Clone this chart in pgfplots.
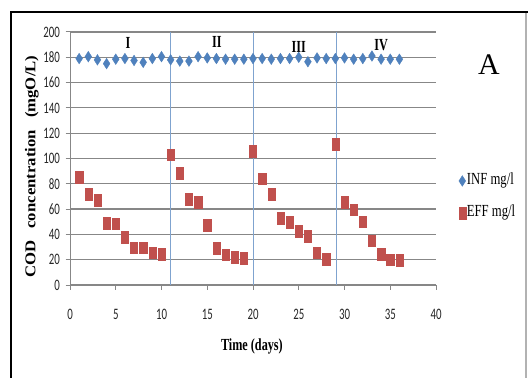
\documentclass[border=0pt]{standalone}
\usepackage{fontspec}
\setmainfont{Liberation Serif}
\newfontfamily\tickfont[FakeStretch=0.68]{Carlito}
\newfontfamily\condfont[FakeStretch=0.72]{Liberation Serif}
\newfontfamily\legfont[FakeStretch=0.75]{Liberation Serif}
\newfontfamily\ylfont[FakeStretch=1.12]{Liberation Serif}
\usepackage{pgfplots}
\pgfplotsset{compat=1.18}
\definecolor{infblue}{HTML}{4F81BD}
\definecolor{effred}{HTML}{C0504D}
\definecolor{sepblue}{HTML}{7FA3CF}
\definecolor{gridgray}{HTML}{878787}
\begin{document}
\begin{tikzpicture}
\useasboundingbox (0,0) rectangle (528bp,378bp);
\fill[white] (0,0) rectangle (528bp,378bp);
\draw[line width=2.5bp] (10.8bp,0) -- (10.8bp,365.8bp) -- (528bp,365.8bp);
\draw[black!30, line width=1.2bp] (526bp,365bp) -- (526bp,0);
\begin{axis}[
  at={(70bp,93bp)}, anchor=south west,
  scale only axis, width=366bp, height=253bp,
  xmin=0, xmax=40, ymin=0, ymax=200,
  xtick={0,5,...,40}, ytick={0,20,...,200},
  axis x line*=bottom, axis y line*=left,
  axis line style={gridgray, line width=1bp},
  ymajorgrids, grid style={gridgray, line width=1.2bp},
  tick align=outside, major tick length=4.5bp,
  tick style={gridgray, line width=1bp},
  /pgf/number format/assume math mode=true,
  ticklabel style={font=\tickfont\fontsize{16}{16}\selectfont, text=black!85},
  xticklabel style={yshift=-16bp},
  yticklabel style={xshift=-2bp},
  clip=false,
  xlabel={\bfseries Time (days)},
  xlabel style={font=\condfont\fontsize{17}{17}\selectfont, at={(axis description cs:0.497,-0.241)}, anchor=center},
  ylabel={\bfseries COD\hspace{12bp}concentration\hspace{12bp}(mgO/L)},
  ylabel style={font=\ylfont\fontsize{15}{15}\selectfont, at={(axis description cs:-0.104,0.468)}, anchor=center},
  legend style={at={(1.0615,0.348)}, anchor=west, draw=none, fill=none,
    font=\legfont\fontsize{17}{17}\selectfont, inner sep=0pt, row sep=14bp,
    nodes={inner sep=1bp, text height=12bp, text depth=4bp}},
  legend cell align=left,
  legend image code/.code={\draw[mark repeat=2,mark phase=2,#1] plot coordinates {(0bp,0bp) (3.5bp,0bp) (7bp,0bp)};},
]
\addplot[sepblue, line width=0.9bp, forget plot] coordinates {(11,0) (11,200)};
\addplot[sepblue, line width=0.9bp, forget plot] coordinates {(20,0) (20,200)};
\addplot[sepblue, line width=0.9bp, forget plot] coordinates {(29.1,0) (29.1,200)};
\addplot[only marks, mark=diamond*, mark size=5.3bp, color=infblue, mark options={xscale=0.85}] coordinates {
(1,179) (2,180.5) (3,178) (4,175) (5,178.5) (6,179) (7,177.5) (8,176) (9,179) (10,180.5)
(11,178) (12,177) (13,177) (14,180.5) (15,179.5) (16,179) (17,178.5) (18,178.5) (19,178.5) (20,179)
(21,179) (22,178.5) (23,179) (24,179) (25,180) (26,176.5) (27,179.5) (28,179) (29,179) (30,179.5)
(31,178.5) (32,179) (33,181) (34,178.5) (35,178.5) (36,178.5)};
\addlegendentry{INF\ mg/l}
\addplot[only marks, mark=square*, mark size=3.6bp, color=effred, mark options={yscale=1.65}] coordinates {
(1,85) (2,72) (3,67) (4,49) (5,48.5) (6,38) (7,29.5) (8,29.5) (9,25.5) (10,24.5)
(11,103) (12,88.5) (13,67.5) (14,65.5) (15,47.5) (16,29) (17,24) (18,22) (19,21.5)
(20,105.5) (21,84) (22,71.5) (23,53) (24,49.5) (25,42.5) (26,38.5) (27,25.5) (28,20.5)
(29,111.5) (30,65.5) (31,59.5) (32,50) (33,35) (34,24.5) (35,20) (36,19.5)};
\addlegendentry{EFF\ mg/l}
\node[font=\condfont\bfseries\fontsize{17}{17}\selectfont] at (axis cs:6.34,191.3) {I};
\node[font=\condfont\bfseries\fontsize{17}{17}\selectfont] at (axis cs:16.06,192.3) {II};
\node[font=\condfont\bfseries\fontsize{17}{17}\selectfont] at (axis cs:25.0,188) {III};
\node[font=\condfont\bfseries\fontsize{17}{17}\selectfont] at (axis cs:34.0,189.7) {IV};
\end{axis}
\node[font=\fontsize{30}{30}\selectfont] at (489bp,313bp) {A};
\end{tikzpicture}
\end{document}
